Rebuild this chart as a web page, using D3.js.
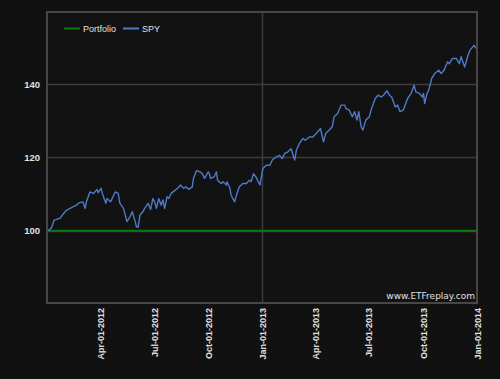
<!DOCTYPE html>
<html><head><meta charset="utf-8">
<script src="https://cdn.jsdelivr.net/npm/d3@7"></script>
<style>
html,body{margin:0;padding:0;background:#111111;}
svg{display:block;}
</style></head>
<body>
<svg id="chart" width="500" height="379"></svg>
<script>
const spyDates = [
"2012-01-03","2012-01-09","2012-01-13","2012-01-23","2012-01-27","2012-02-03","2012-02-09","2012-02-14","2012-02-20","2012-02-24",
"2012-03-02","2012-03-06","2012-03-08","2012-03-14","2012-03-20","2012-03-26","2012-03-28","2012-04-02","2012-04-04","2012-04-10",
"2012-04-12","2012-04-18","2012-04-26","2012-05-01","2012-05-04","2012-05-10","2012-05-16","2012-05-21","2012-05-25","2012-05-30",
"2012-06-01","2012-06-04","2012-06-07","2012-06-12","2012-06-15","2012-06-21","2012-06-25","2012-06-29","2012-07-02","2012-07-05",
"2012-07-09","2012-07-13","2012-07-16","2012-07-19","2012-07-23","2012-07-26","2012-07-30","2012-08-06","2012-08-10","2012-08-15",
"2012-08-20","2012-08-24","2012-08-29","2012-09-04","2012-09-06","2012-09-11","2012-09-17","2012-09-21","2012-09-25","2012-10-01",
"2012-10-03","2012-10-05","2012-10-11","2012-10-15","2012-10-17","2012-10-23","2012-10-26","2012-11-01","2012-11-02","2012-11-07",
"2012-11-09","2012-11-15","2012-11-19","2012-11-23","2012-11-29","2012-12-05","2012-12-10","2012-12-13","2012-12-17","2012-12-21",
"2012-12-28","2013-01-02","2013-01-08","2013-01-14","2013-01-18","2013-01-25","2013-01-30","2013-02-04","2013-02-08","2013-02-13",
"2013-02-19","2013-02-25","2013-02-28","2013-03-05","2013-03-11","2013-03-15","2013-03-22","2013-03-28","2013-04-03","2013-04-10",
"2013-04-15","2013-04-19","2013-04-25","2013-04-30","2013-05-03","2013-05-09","2013-05-15","2013-05-21","2013-05-23","2013-05-29",
"2013-06-03","2013-06-07","2013-06-11","2013-06-14","2013-06-18","2013-06-21","2013-06-26","2013-07-02","2013-07-05","2013-07-10",
"2013-07-12","2013-07-17","2013-07-22","2013-07-26","2013-08-01","2013-08-05","2013-08-09","2013-08-15","2013-08-19","2013-08-23",
"2013-08-29","2013-09-05","2013-09-11","2013-09-16","2013-09-19","2013-09-25","2013-09-30","2013-10-02","2013-10-04","2013-10-08",
"2013-10-11","2013-10-16","2013-10-21","2013-10-28","2013-11-01","2013-11-06","2013-11-12","2013-11-15","2013-11-20","2013-11-27",
"2013-12-02","2013-12-05","2013-12-11","2013-12-16","2013-12-20","2013-12-27","2013-12-31"
];
const spyValues = [
100.0,100.9,102.9,103.4,104.3,105.6,106.1,106.5,107.0,107.6,
107.9,106.1,107.9,110.6,110.2,111.3,110.4,111.6,110.2,107.5,
108.8,107.9,110.6,110.2,107.5,106.1,102.5,103.8,105.2,102.5,
101.1,101.0,104.3,105.2,106.1,107.5,105.8,108.8,107.9,106.1,
108.8,107.0,108.4,106.1,109.3,108.8,110.2,111.1,111.6,112.5,
111.6,112.0,111.3,112.0,114.3,116.4,116.1,115.6,114.3,116.1,
115.6,114.3,114.7,116.1,113.8,112.9,113.4,112.5,113.4,111.6,
109.7,107.9,110.2,112.0,112.9,112.9,113.8,113.4,115.6,114.7,
112.5,117.0,117.9,117.9,119.3,120.2,120.6,119.7,121.1,121.5,
122.4,119.3,122.0,123.8,125.2,124.7,125.6,125.6,126.6,127.9,
124.3,126.6,127.5,128.4,131.1,132.0,134.3,134.3,133.4,132.9,
131.1,132.5,130.2,132.5,128.4,127.5,130.2,131.1,133.0,135.2,
136.1,137.0,136.5,137.0,138.2,137.0,136.5,133.8,134.3,132.5,
133.0,136.1,137.5,139.7,137.9,137.5,136.5,137.5,134.7,137.5,
138.4,141.6,142.9,143.8,142.9,143.8,146.1,145.6,147.0,147.0,
145.6,147.5,144.7,147.5,149.3,150.6,149.7
];
const portfolioDates = ["2012-01-03","2013-12-31"];
const portfolioValues = [100, 100];
const yTicks = [100, 120, 140];
const xTickDates = ["2012-04-01","2012-07-01","2012-10-01","2013-01-01","2013-04-01","2013-07-01","2013-10-01","2014-01-01"];
const gridXDates = ["2013-01-01"];
const seriesNames = ["Portfolio","SPY"];
const seriesColors = ["#0b790b","#5079c6"];

const parse = d3.timeParse("%Y-%m-%d");
const fmt = d3.timeFormat("%b-%d-%Y");
const svg = d3.select("#chart");
const L = 47, T = 12, R = 477, B = 303;

const x = d3.scaleTime().domain([parse("2012-01-01"), parse("2014-01-01")]).range([L, R]);
const y = d3.scaleLinear().domain([80.3, 159.7]).range([B, T]);

svg.append("rect").attr("width",500).attr("height",379).attr("fill","#111111");
svg.append("rect").attr("x",L).attr("y",T).attr("width",R-L).attr("height",B-T).attr("fill","#121212");

// grid
const g = svg.append("g");
g.selectAll(".gy").data(yTicks).enter().append("line")
  .attr("x1",L).attr("x2",R).attr("y1",d=>Math.round(y(d))+0.5).attr("y2",d=>Math.round(y(d))+0.5)
  .attr("stroke","#3c3c3c").attr("stroke-width",1.5);
g.selectAll(".gx").data(gridXDates).enter().append("line")
  .attr("y1",T).attr("y2",B).attr("x1",d=>Math.round(x(parse(d)))+0.5).attr("x2",d=>Math.round(x(parse(d)))+0.5)
  .attr("stroke","#3c3c3c").attr("stroke-width",1.5);

// y axis
const yAxis = d3.axisLeft(y).tickValues(yTicks).tickSize(0).tickPadding(7);
const ya = svg.append("g").attr("transform",`translate(${L},0)`).call(yAxis);
ya.select(".domain").remove();
ya.selectAll("text").attr("fill","#e0e0e0").attr("font-family","Liberation Sans, Arial, sans-serif")
  .attr("font-size","9.5px").attr("font-weight","bold");

// x axis
const xAxis = d3.axisBottom(x).tickValues(xTickDates.map(parse)).tickFormat(fmt).tickSize(0).tickPadding(0);
const xa = svg.append("g").attr("transform",`translate(0,${B})`).call(xAxis);
xa.select(".domain").remove();
xa.selectAll("text").attr("fill","#e0e0e0").attr("font-family","Liberation Sans, Arial, sans-serif")
  .attr("font-size","9px").attr("font-weight","bold")
  .attr("transform","rotate(-90)").attr("text-anchor","end").attr("dy","0.35em").attr("x",-5).attr("y",0);

// lines
const line = d3.line().x(d=>x(d[0])).y(d=>y(d[1]));
const spy = spyDates.map((d,i)=>[parse(d), spyValues[i]]);
const port = portfolioDates.map((d,i)=>[parse(d), portfolioValues[i]]);
svg.append("path").datum(port).attr("d",line).attr("fill","none").attr("stroke",seriesColors[0]).attr("stroke-width",2);
svg.append("path").datum(spy).attr("d",line).attr("fill","none").attr("stroke",seriesColors[1]).attr("stroke-width",1.4).attr("stroke-linejoin","round");

// frame
svg.append("rect").attr("x",L).attr("y",T).attr("width",R-L).attr("height",B-T)
  .attr("fill","none").attr("stroke","#474747").attr("stroke-width",2);

// legend
const lg = svg.append("g");
const legX = [64, 123];
seriesNames.forEach((n,i)=>{
  lg.append("line").attr("x1",legX[i]).attr("x2",legX[i]+16).attr("y1",28.5).attr("y2",28.5)
    .attr("stroke",seriesColors[i]).attr("stroke-width",2);
  lg.append("text").attr("x",legX[i]+19).attr("y",28.5).attr("dy","0.35em").text(n)
    .attr("fill","#e0e0e0").attr("font-family","Liberation Sans, Arial, sans-serif").attr("font-size","9px");
});

// watermark
svg.append("text").attr("x",475).attr("y",299).attr("text-anchor","end").text("www.ETFreplay.com")
  .attr("fill","#e0e0e0").attr("font-family","DejaVu Sans, sans-serif").attr("font-size","9px");
</script>
</body></html>
